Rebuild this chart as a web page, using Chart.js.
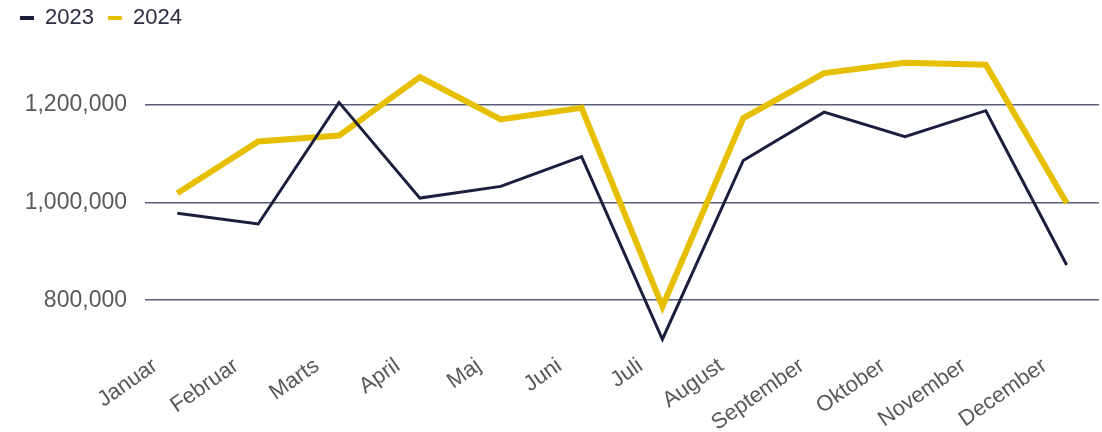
<!DOCTYPE html>
<html>
<head>
<meta charset="utf-8">
<script src="https://cdn.jsdelivr.net/npm/chart.js@4"></script>
<style>
  html, body { margin: 0; padding: 0; background: #ffffff; }
  #wrap { width: 1102px; height: 432px; position: relative; }
</style>
</head>
<body>
<div id="wrap"><canvas id="sales-chart"></canvas></div>
<script>
var months = ['Januar', 'Februar', 'Marts', 'April', 'Maj', 'Juni', 'Juli', 'August', 'September', 'Oktober', 'November', 'December'];
var values2023 = [978000, 956000, 1205000, 1009000, 1033000, 1094000, 720000, 1086000, 1185000, 1135000, 1188000, 872000];
var values2024 = [1019000, 1125000, 1137000, 1257000, 1170000, 1194000, 787000, 1173000, 1265000, 1286000, 1282000, 999000];
var yTicks = [800000, 1000000, 1200000];

var navy = '#1b1e3c';
var yellow = '#e6bf00';

function toPoints(values) {
    return values.map((v, i) => ({ x: i, y: v }));
}

// fixed legend height so the plot starts where it should, legend nudged up a bit
var legendHeight = {
    id: 'legendHeight',
    afterInit: function(chart) {
        var fit = chart.legend.fit;
        chart.legend.fit = function() {
            fit.call(this);
            this.height = 56;
        };
    },
    afterLayout: function(chart) {
        chart.legend.top -= 7;
        chart.legend.bottom -= 7;
    }
};

document.addEventListener('DOMContentLoaded', function() {
    var ctx = document.getElementById('sales-chart').getContext('2d');
    Chart.defaults.font.family = '"Liberation Sans", Arial, sans-serif';
    Chart.defaults.font.size = 22;

    new Chart(ctx, {
        type: 'line',
        data: {
            datasets: [{
                label: '2023',
                data: toPoints(values2023),
                borderColor: navy,
                backgroundColor: navy,
                borderWidth: 3,
                pointRadius: 0,
                tension: 0,
                fill: false
            }, {
                label: '2024',
                data: toPoints(values2024),
                borderColor: yellow,
                backgroundColor: yellow,
                borderWidth: 6,
                pointRadius: 0,
                tension: 0,
                fill: false
            }]
        },
        options: {
            responsive: true,
            maintainAspectRatio: false,
            animation: false,
            layout: {
                padding: { left: 6, right: 3, top: 0, bottom: 0 }
            },
            scales: {
                x: {
                    type: 'linear',
                    min: -0.4,
                    max: 11.4,
                    afterBuildTicks: function(scale) {
                        scale.ticks = months.map((m, i) => ({ value: i }));
                    },
                    afterFit: function(scale) {
                        scale.height = 83;
                    },
                    grid: { display: false },
                    border: { display: false },
                    ticks: {
                        color: '#595959',
                        minRotation: 35,
                        maxRotation: 35,
                        autoSkip: false,
                        labelOffset: -22,
                        padding: -4,
                        callback: function(value) {
                            return months[value];
                        }
                    }
                },
                y: {
                    min: 700000,
                    max: 1300000,
                    afterBuildTicks: function(scale) {
                        scale.ticks = yTicks.map(v => ({ value: v }));
                    },
                    afterFit: function(scale) {
                        scale.width = 139;
                    },
                    grid: {
                        color: '#5b5e78',
                        lineWidth: 1.5,
                        drawTicks: false
                    },
                    border: { display: false },
                    ticks: {
                        color: '#595959',
                        font: { size: 23 },
                        padding: 18,
                        callback: function(value) {
                            return value.toLocaleString('en-US');
                        }
                    }
                }
            },
            plugins: {
                legend: {
                    position: 'top',
                    align: 'start',
                    labels: {
                        color: '#2b2d42',
                        usePointStyle: true,
                        pointStyle: 'line',
                        pointStyleWidth: 14,
                        boxHeight: 10,
                        padding: 14,
                        generateLabels: function(chart) {
                            var items = Chart.defaults.plugins.legend.labels.generateLabels(chart);
                            items.forEach(item => { item.lineWidth = 4; });
                            return items;
                        }
                    }
                },
                tooltip: { enabled: false }
            }
        },
        plugins: [legendHeight]
    });
});
</script>
</body>
</html>
